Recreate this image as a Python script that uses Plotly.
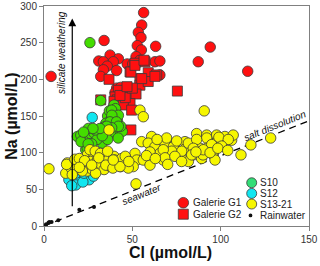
import plotly.graph_objects as go

# ---------------- data ----------------
g1_cl = [4, 34, 56.4, 55.3, 53.4, 54.9, 63.2, 52.8, 55.1, 37.4, 42.1, 31, 33.6, 39.2, 35.8, 33.6,
         41.1, 32.1, 62.8, 47.1, 50.2, 52.1, 54.3, 94.1, 87.3, 115.3, 65.6, 65.6, 41.1, 43.4, 40.2]
g1_na = [204, 253, 291, 274, 264, 257, 245, 246, 240, 233, 228, 225, 224, 224, 218, 213,
         212, 204, 224, 221, 221, 231, 226, 244, 224, 211, 225, 206, 188, 189, 182]

g2_cl = [36.8, 48.7, 59, 63.8, 54.3, 54.3, 59, 51.5, 57.2, 46.8, 52.1, 44.9, 48.7, 75.5, 49.2,
         49.2, 51.5, 56.6, 62.8, 55.3, 42.1, 40.2, 41.5, 39.6, 44.9, 49.6, 32.1, 46, 43, 50, 47]
g2_na = [200, 210, 209, 206, 201, 192, 197, 222, 224, 181, 180, 167, 167, 184, 131,
         210, 219, 226, 204, 201, 185, 176, 172, 170, 165, 158, 172, 175, 178, 188, 190]

s10_cl = [26, 32.1, 39.6, 40.6, 38.6, 41.5, 37, 39.6, 34, 31.1, 25.5, 18.9, 22.6, 28.3, 44.3, 43.4,
          20.8, 26.4, 33, 28.3, 35.8, 37.7, 23.6, 24.5, 36, 37, 38, 35, 34, 30, 21, 27, 36, 42,
          39, 40.5, 33, 29, 25, 38.3, 42.1, 38.4, 37.4, 41, 42.1, 38.3, 35.5, 31.7, 25.1, 27.7, 22.4]
s10_na = [250, 171, 165, 154, 142, 144, 133, 128, 129, 122, 124, 122, 120, 118, 129, 136,
          124, 126, 113, 127, 126, 128, 104, 106, 150, 157, 146, 140, 135, 118, 115, 112, 118, 120,
          136, 160, 123, 131, 112, 158, 151, 151, 142, 142, 136, 134, 136, 133, 133, 133, 128]

s12_cl = [27.3, 16, 17, 20.8, 19, 23.6, 21.7, 26.4, 25.5, 14.1, 18, 15.7, 22, 28, 17.9, 22.6]
s12_na = [148, 59, 65, 63, 68, 67, 72, 70, 63, 63, 56, 55, 60, 68, 72, 72]

s13_cl = [2.8, 13.2, 12.3, 15.4, 18.9, 18, 22.6, 24.5, 28.3, 26.4, 30.2, 33, 30.2, 34, 37.7, 37.7,
          41.5, 43.4, 34.9, 39.6, 24.5, 27.3, 21.7, 29.2, 12.8, 17.5, 20, 23, 26, 29, 32, 36, 40,
          44, 31, 27, 35, 16, 20, 39,
          54.3, 56.2, 90.7, 60.9, 55.3, 59, 62.8, 68.5, 74.1, 79.8, 86.4, 92.1, 97.7, 82.6, 88.3,
          93.9, 71.3, 65.6, 60, 51.5, 52.5, 56.2, 50.5, 47.7, 60, 67.5, 77.9, 76.4, 84.5, 89.2,
          95.8, 81.7, 43, 39.2, 73.2, 79.8, 102.4, 106.2, 107.1, 92.1, 96.8, 100.6, 92.1, 95.8,
          90, 96.8, 111.5, 117.1, 128.3, 69.4, 75.1, 81.7, 86.4, 99, 104.3, 100.6, 94.9, 90.2,
          84.5, 77.9, 72.3, 67.5, 68.5, 74.1, 83.6, 94, 98.4, 77.9, 52.1, 64, 58, 63, 70, 86,
          104, 46, 48, 36.8]
s13_na = [78, 86, 72, 79, 86, 77, 81, 97, 97, 88, 90, 86, 81, 77, 81, 88,
          86, 81, 95, 95, 75, 77, 75, 72, 84, 91, 92, 89, 104, 102, 99, 102, 90,
          92, 93, 83, 83, 70, 80, 79,
          158, 149, 157, 122, 115, 113, 108, 113, 113, 115, 126, 124, 124, 110, 106,
          104, 101, 99, 101, 99, 90, 90, 81, 79, 83, 90, 92, 101, 97, 92,
          97, 88, 81, 90, 108, 105, 122, 117, 124, 120, 113, 113, 106, 101,
          97, 90, 97, 110.6, 120, 120, 116, 113, 118, 121, 118, 109, 111, 104,
          106, 102, 102, 104, 93, 95, 97, 100, 106, 88, 57.5, 118, 96, 92, 84, 101,
          103, 95, 88, 131]

rain_cl = [0.9, 1.2, 2.5, 3, 4.3, 8.1, 20, 28.3]
rain_na = [1, 2.5, 4.5, 5.4, 5.4, 8, 22, 26]

seawater_cl = [0, 150]
seawater_na = [0, 143.5]

arrow_cl = 16
arrow_na = [25, 283]

legend1_labels = ["Galerie G1", "Galerie G2"]
legend2_labels = ["S10", "S12", "S13-21", "Rainwater"]

# ---------------- styles ----------------
FONT = "Liberation Sans, Arial, sans-serif"
RED = "#ff1010"
GREEN = "#44dd00"
CYAN = "#11e6f0"
YELLOW = "#f6f600"
LEG_GREEN = "#33dd77"
EDGE = dict(color="#3a3a3a", width=0.8)

fig = go.Figure()

fig.add_trace(go.Scatter(x=seawater_cl, y=seawater_na, mode="lines",
                         line=dict(color="black", width=1.3, dash="7px,5px"),
                         hoverinfo="skip", showlegend=False))
fig.add_trace(go.Scatter(x=g1_cl, y=g1_na, mode="markers", name=legend1_labels[0],
                         marker=dict(symbol="circle", size=10.5, color=RED, line=EDGE)))
fig.add_trace(go.Scatter(x=g2_cl, y=g2_na, mode="markers", name=legend1_labels[1],
                         marker=dict(symbol="square", size=10, color=RED, line=EDGE)))
fig.add_trace(go.Scatter(x=s10_cl, y=s10_na, mode="markers", name=legend2_labels[0],
                         marker=dict(symbol="circle", size=10.5, color=GREEN, line=EDGE)))
fig.add_trace(go.Scatter(x=s12_cl, y=s12_na, mode="markers", name=legend2_labels[1],
                         marker=dict(symbol="circle", size=10.5, color=CYAN, line=EDGE)))
fig.add_trace(go.Scatter(x=s13_cl, y=s13_na, mode="markers", name=legend2_labels[2],
                         marker=dict(symbol="circle", size=10.5, color=YELLOW, line=EDGE)))
fig.add_trace(go.Scatter(x=rain_cl, y=rain_na, mode="markers", name=legend2_labels[3],
                         marker=dict(symbol="circle", size=4, color="#111")))

# plot area in pixels
L, R, T, B = 44, 309, 6, 226.3
W, H = 320, 266


def px(xp):
    return (xp - L) / (R - L)


def py(yp):
    return (B - yp) / (B - T)


shapes = []
annotations = []


def leg_marker(cx, cy, r, color, kind="circle", line=True):
    shapes.append(dict(type="rect" if kind == "square" else "circle",
                       xref="paper", yref="paper", xsizemode="pixel", ysizemode="pixel",
                       xanchor=px(cx), yanchor=py(cy), x0=-r, x1=r, y0=-r, y1=r,
                       fillcolor=color,
                       line=dict(color="#3a3a3a", width=0.8) if line else dict(width=0)))


def leg_text(x, y, text):
    annotations.append(dict(xref="paper", yref="paper", x=px(x), y=py(y), text=text,
                            showarrow=False, xanchor="left", yanchor="middle",
                            font=dict(family=FONT, size=10, color="#222")))


leg_marker(183.3, 203, 5.3, RED)
leg_marker(183.3, 214.5, 5, RED, kind="square")
leg_text(191, 203, legend1_labels[0])
leg_text(191, 214.5, legend1_labels[1])

leg_marker(251.7, 183, 5, LEG_GREEN)
leg_marker(251.7, 193.7, 5, CYAN)
leg_marker(251.7, 204.3, 5, YELLOW)
leg_marker(250.5, 215.7, 1.9, "#111", line=False)
for i, yy in enumerate([183, 193.7, 204.3, 215.7]):
    leg_text(258, yy, legend2_labels[i])

# silicate weathering arrow
annotations.append(dict(x=arrow_cl, y=arrow_na[1], ax=arrow_cl, ay=arrow_na[0],
                        xref="x", yref="y", axref="x", ayref="y", text="",
                        showarrow=True, arrowhead=2, arrowsize=1.3, arrowwidth=1.2,
                        arrowcolor="black"))
annotations.append(dict(x=10.2, y=236, xref="x", yref="y", text="<i>silicate weathering</i>",
                        showarrow=False, textangle=-90, xanchor="center", yanchor="middle",
                        font=dict(family=FONT, size=10, color="#111")))
annotations.append(dict(x=55, y=43, xref="x", yref="y", text="<i>seawater</i>",
                        showarrow=False, textangle=-22, xanchor="center", yanchor="middle",
                        font=dict(family=FONT, size=10, color="#111")))
annotations.append(dict(x=131, y=137, xref="x", yref="y", text="<i>salt dissolution</i>",
                        showarrow=False, textangle=-22, xanchor="center", yanchor="middle",
                        font=dict(family=FONT, size=10, color="#111")))

# axis titles
annotations.append(dict(xref="paper", yref="paper", x=px(12), y=py(117),
                        text="<b>Na (µmol/L)</b>", showarrow=False, textangle=-90,
                        xanchor="center", yanchor="middle",
                        font=dict(family=FONT, size=16, color="#111")))
annotations.append(dict(xref="paper", yref="paper", x=px(170), y=py(253),
                        text="<b>Cl (µmol/L)</b>", showarrow=False,
                        xanchor="center", yanchor="middle",
                        font=dict(family=FONT, size=16, color="#111")))

axis_common = dict(showline=True, linecolor="#808080", linewidth=1, mirror=True,
                   ticks="outside", ticklen=4, tickcolor="#808080", tickwidth=1,
                   showgrid=False, zeroline=False,
                   tickfont=dict(family=FONT, size=10, color="#333"))

fig.update_layout(
    width=W, height=H,
    margin=dict(l=L, r=W - R, t=T, b=H - B, pad=0, autoexpand=False),
    paper_bgcolor="white", plot_bgcolor="white",
    showlegend=False,
    xaxis=dict(range=[0, 150], tickvals=[0, 50, 100, 150], **axis_common),
    yaxis=dict(range=[0, 300], tickvals=[0, 50, 100, 150, 200, 250, 300], **axis_common),
    shapes=shapes, annotations=annotations,
)

fig.write_html("out.html", config={"displayModeBar": False},
               post_script="document.body.style.margin='0';document.body.style.padding='0';"
                           "document.body.style.overflow='hidden';")
